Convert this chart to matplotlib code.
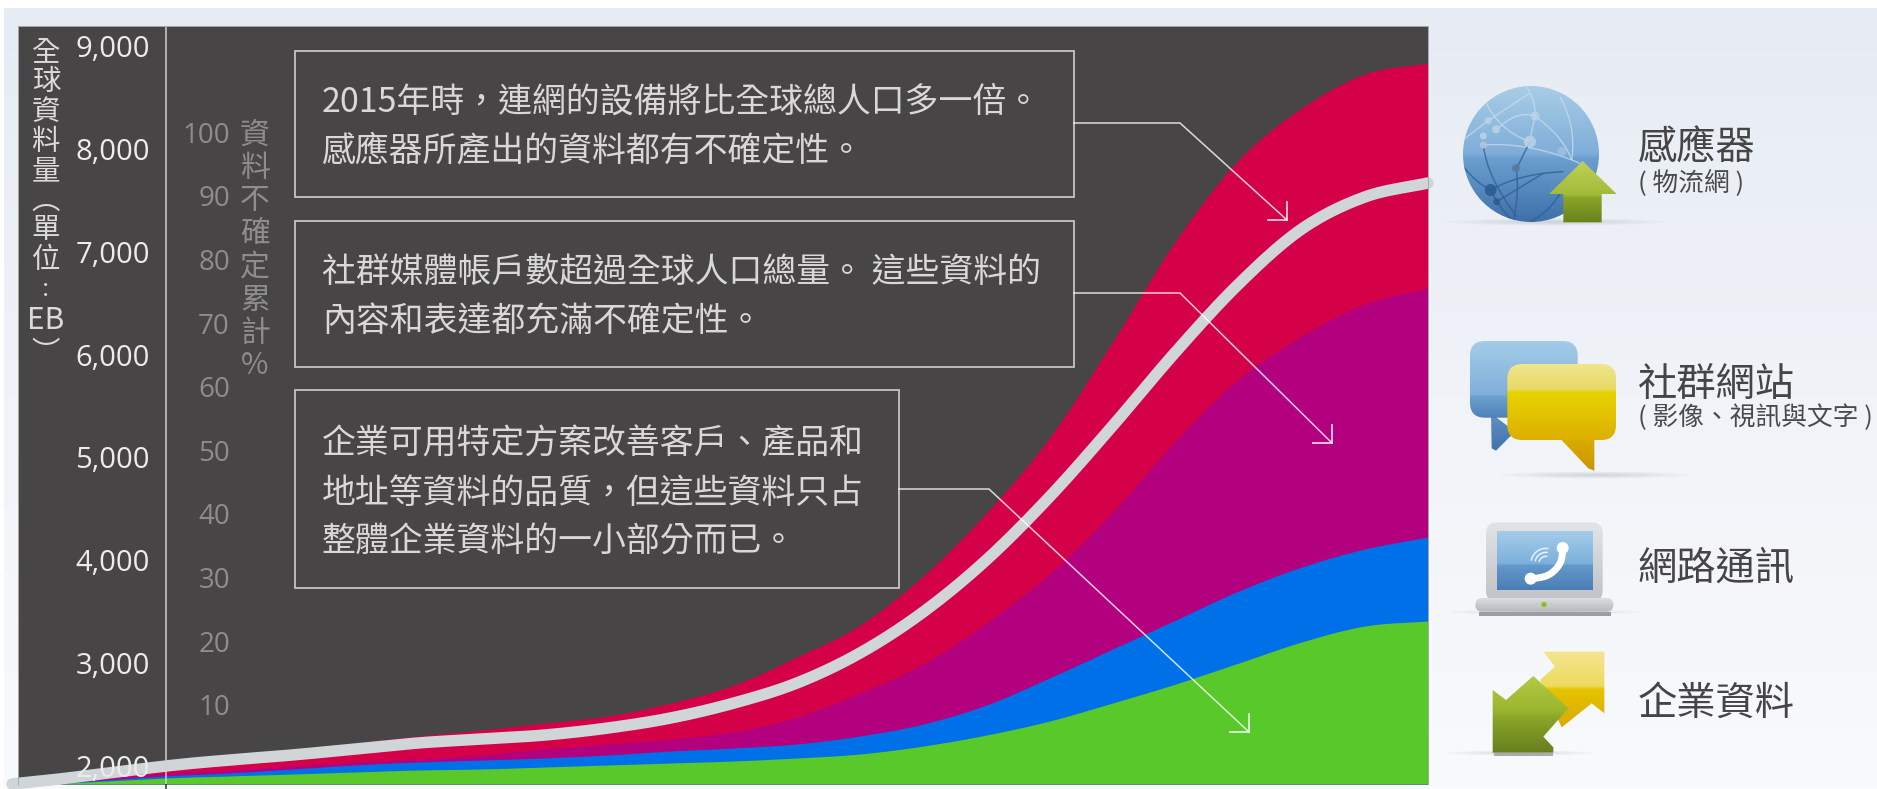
import numpy as np
import matplotlib
matplotlib.use("Agg")
import matplotlib.pyplot as plt
from matplotlib.colors import to_rgb
from matplotlib.patches import Circle, Ellipse, FancyBboxPatch, Polygon, Rectangle, PathPatch, Arc
from matplotlib.path import Path

plt.rcParams['font.family'] = ['Noto Sans CJK TC', 'DejaVu Sans']

# ---------- data ----------
years = [2004.16, 2005, 2005.5, 2006, 2006.5, 2007, 2007.5, 2008, 2008.5, 2009, 2009.5,
         2010, 2010.5, 2011, 2011.5, 2012, 2012.5, 2013, 2013.5, 2014, 2014.5, 2015]
enterprise = [1830, 1883, 1903, 1922, 1942, 1961, 1971, 1990, 2010, 2029, 2049,
              2078, 2117, 2194, 2301, 2437, 2612, 2797, 3001, 3206, 3361, 3410]
voip = [1835, 1903, 1932, 1971, 2010, 2039, 2058, 2078, 2107, 2146, 2175,
        2214, 2292, 2408, 2593, 2856, 3137, 3419, 3701, 3935, 4110, 4226]
social = [1835, 1932, 1961, 2000, 2039, 2068, 2107, 2165, 2214, 2262, 2331,
          2476, 2710, 2992, 3390, 3867, 4469, 5160, 5762, 6180, 6492, 6647]
sensors = [1844, 2049, 2102, 2165, 2224, 2292, 2350, 2418, 2486, 2612, 2787,
           3060, 3371, 3847, 4460, 5189, 6122, 7104, 7892, 8397, 8728, 8835]
uncert_years = [2003.78] + years
uncertainty_eb = [1825, 1874, 2000, 2058, 2107, 2165, 2224, 2262, 2301, 2369, 2467, 2612,
                  2807, 3099, 3497, 4003, 4615, 5305, 6025, 6686, 7221, 7532, 7668]
eb_ticks = [2000, 3000, 4000, 5000, 6000, 7000, 8000, 9000]
pct_ticks = [10, 20, 30, 40, 50, 60, 70, 80, 90, 100]
eb_title = ["全", "球", "資", "料", "量", "︵", "單", "位", "‧", "‧", "EB", "︶"]
pct_title = ["資", "料", "不", "確", "定", "累", "計", "%"]
box_lines = [
    ["2015年時，連網的設備將比全球總人口多一倍。", "感應器所產出的資料都有不確定性。"],
    ["社群媒體帳戶數超過全球人口總量。 這些資料的", "內容和表達都充滿不確定性。"],
    ["企業可用特定方案改善客戶、產品和", "地址等資料的品質，但這些資料只占", "整體企業資料的一小部分而已。"],
]
legend_names = ["感應器", "社群網站", "網路通訊", "企業資料"]
legend_subs = ["( 物流網 )", "( 影像、視訊與文字 )"]

W, H = 1877, 789
DPI = 100
PANEL = (18, 26, 1428, 784)  # left, top, right, bottom in pixels


def smooth(xs, ys, n=14):
    p = np.column_stack([xs, ys]).astype(float)
    p = np.vstack([2 * p[0] - p[1], p, 2 * p[-1] - p[-2]])
    out = []
    t = np.linspace(0, 1, n, endpoint=False)[:, None]
    for i in range(1, len(p) - 2):
        a, b, c, d = p[i - 1], p[i], p[i + 1], p[i + 2]
        out.append(0.5 * (2 * b + (c - a) * t + (2 * a - 5 * b + 4 * c - d) * t ** 2 + (3 * b - a - 3 * c + d) * t ** 3))
    out.append(p[-2][None, :])
    out = np.vstack(out)
    return out[:, 0], out[:, 1]


fig = plt.figure(figsize=(W / DPI, H / DPI), dpi=DPI, facecolor='white')

# ---------- background ----------
bg = fig.add_axes([0, 0, 1, 1], zorder=0)
bg.set_axis_off()
c0, c1 = np.array(to_rgb('#e7ecf4')), np.array(to_rgb('#f9fafc'))
tt = np.linspace(0, 1, 256)[:, None, None]
bg.imshow(c0 * (1 - tt) + c1 * tt, extent=(4, W, H, 8), aspect='auto')
bg.set_xlim(0, W)
bg.set_ylim(H, 0)

# ---------- chart ----------
l, t, r, b = PANEL
ax = fig.add_axes([l / W, 1 - b / H, (r - l) / W, (b - t) / H], zorder=1, facecolor='#474546')
ax.set_xlim(2003.827, 2015)
ax.set_ylim(1825, 9194)
ax.set_axisbelow(False)
for series, col, in [(sensors, '#d40048'), (social, '#b2007f'), (voip, '#0070e8'), (enterprise, '#58c82a')]:
    sx, sy = smooth(years, series)
    ax.fill_between(sx, 1825, sy, color=col, lw=0, zorder=2)
ux, uy = smooth(uncert_years, uncertainty_eb)
ax.plot(ux, uy, color='#d0d5d8', lw=11.5 * 0.72, solid_capstyle='round', clip_on=False, zorder=2.2)
ax.axvline(2005, color='#cfcfcf', lw=1.1, zorder=2.3)
ax.set_xticks([2005])
ax.set_xticklabels([''])
ax.tick_params(axis='x', direction='out', length=4, width=1.1, color='#333333')
ax.set_yticks(eb_ticks)
ax.set_yticklabels([f"{v:,}" for v in eb_ticks], family=['Open Sans'], fontsize=21, color='#ececec')
ax.tick_params(axis='y', direction='in', length=0, pad=-95)
for s in ax.spines.values():
    s.set_color('#a8a8a8')
    s.set_linewidth(0.7)
ax.spines['bottom'].set_visible(False)

ax2 = ax.twinx()
ax2.set_ylim(-2.42, 116.67)
ax2.yaxis.tick_left()
ax2.set_yticks(pct_ticks)
ax2.set_yticklabels([str(v) for v in pct_ticks], family=['Open Sans'], fontsize=20, color='#8d8d8d')
ax2.tick_params(axis='y', direction='in', length=0, pad=-152.6)
for s in ax2.spines.values():
    s.set_visible(False)

# ---------- overlay in pixels ----------
ov = fig.add_axes([0, 0, 1, 1], zorder=3)
ov.set_axis_off()
ov.patch.set_alpha(0)
ov.set_xlim(0, W)
ov.set_ylim(H, 0)
ov.set_autoscale_on(False)

eb_y = [52, 82, 112, 142, 171, 201, 230, 260, 285, 295, 320, 353]
eb_sz = [20.5, 20.5, 20.5, 20.5, 20.5, 20.5, 20.5, 20.5, 11, 11, 21.5, 20.5]
for ch, y, fs in zip(eb_title, eb_y, eb_sz):
    ov.text(46, y, ch, ha='center', va='center', fontsize=fs, color='#dadada', fontweight='light')
for ch, y in zip(pct_title, [135, 168, 200, 233, 268, 300, 333, 365]):
    ov.text(255, y, ch, ha='center', va='center', fontsize=21.5, color='#8d8d8d', fontweight='light')

boxes = [(295, 51, 1074, 196.5), (295, 220.5, 1074, 367), (295, 390, 899, 587.5)]
line_y = [[102, 151], [273, 321], [444.5, 493, 541]]
for (x0, y0, x1, y1), lines, ys in zip(boxes, box_lines, line_y):
    ov.add_patch(Rectangle((x0, y0), x1 - x0, y1 - y0, fc='none', ec='#c4c4c4', lw=1.3))
    for s, y in zip(lines, ys):
        ov.text(322, y, s, ha='left', va='center', fontsize=24.4, color='#d8d8d8', fontweight='light')

leaders = [[(1074, 123), (1180, 123), (1287, 220)],
           [(1074, 293), (1180, 293), (1332, 443)],
           [(899, 489), (989, 489), (1249, 732)]]
for pts in leaders:
    xs, ys = zip(*pts)
    ov.plot(xs, ys, color='white', alpha=0.8, lw=1.1, solid_joinstyle='miter')
    tx, ty = pts[-1]
    ov.plot([tx - 19, tx, tx], [ty, ty, ty - 18], color='white', alpha=0.8, lw=1.3, solid_joinstyle='miter')


# ---------- icons ----------
def grad(patch, stops, y0, y1, z=4):
    patch.set_facecolor('none')
    patch.set_edgecolor('none')
    ov.add_patch(patch)
    pos = np.array([s[0] for s in stops])
    cols = np.array([to_rgb(s[1]) for s in stops])
    u = np.linspace(0, 1, 256)
    arr = np.stack([np.interp(u, pos, cols[:, i]) for i in range(3)], axis=1)[:, None, :]
    ext = patch.get_path().transformed(patch.get_patch_transform()).get_extents()
    im = ov.imshow(arr, extent=(ext.x0 - 2, ext.x1 + 2, y1, y0), aspect='auto', zorder=z)
    im.set_clip_path(patch)
    return im


def rr(x0, y0, x1, y1, r):
    return FancyBboxPatch((x0, y0), x1 - x0, y1 - y0, boxstyle=f"round,pad=0,rounding_size={r}", lw=0)


def shadow(cx, cy, w, h=7):
    for k in np.linspace(1, 0.25, 6):
        ov.add_patch(Ellipse((cx, cy), w * k, h * k, fc='#7a8088', ec='none', alpha=0.04, zorder=3))


Z2 = lambda zx, zy: (1420 + zx / 3, 50 + zy / 3)
Z3 = lambda zx, zy: (1420 + zx / 3, 470 + zy / 3)

# globe
shadow(1555, 222, 220)
gc = Circle((1531, 154), 68)
grad(gc, [(0, '#a8cde6'), (0.5, '#7fadd9'), (0.53, '#6c9fd0'), (1, '#3d70a8')], 86, 222)
net_light = [[(130, 270), (200, 210), (330, 130)], [(190, 285), (330, 275), (480, 340)],
             [(190, 140), (230, 240), (330, 275)], [(345, 198), (335, 240), (330, 275)],
             [(230, 238), (290, 180), (345, 198)], [(345, 198), (430, 260), (455, 330)],
             [(420, 140), (470, 230), (455, 330)], [(320, 110), (350, 160), (345, 198)]]
net_dark = [[(190, 285), (200, 380), (290, 500)], [(290, 355), (330, 275), (330, 275)],
            [(212, 420), (300, 370), (430, 365)], [(230, 455), (320, 400), (370, 370)],
            [(288, 355), (300, 430), (280, 510)], [(212, 420), (235, 470), (280, 515)],
            [(130, 350), (170, 400), (212, 420)], [(330, 515), (400, 480), (430, 410)]]
for group, col, lw in [(net_light, '#c8dcec', 1.0), (net_dark, '#2f5f94', 1.1)]:
    for a_, b_, c_ in group:
        pp = PathPatch(Path([Z2(*a_), Z2(*b_), Z2(*c_)], [Path.MOVETO, Path.CURVE3, Path.CURVE3]),
                       fc='none', ec=col, lw=lw, alpha=0.75, zorder=5)
        ov.add_patch(pp)
        pp.set_clip_path(gc)
for zx, zy, rad, col in [(345, 198, 4.5, '#bcd3e8'), (330, 275, 6, '#bcd3e8'), (425, 305, 4.5, '#a4bfdc'),
                         (228, 238, 4, '#bcd3e8'), (205, 212, 3.5, '#bcd3e8'), (190, 258, 3.5, '#bcd3e8'),
                         (190, 285, 3.5, '#b2c9e2'), (288, 355, 4, '#55789f'), (212, 420, 6, '#2c5a90'),
                         (230, 455, 3.5, '#2c5a90')]:
    ov.add_patch(Circle(Z2(zx, zy), rad, fc=col, ec='none', alpha=0.85, zorder=5))
# up arrow
arrow_pts = [Z2(*p) for p in [(488, 333), (590, 432), (545, 432), (545, 517), (430, 517), (430, 432), (387, 432)]]
grad(Polygon(arrow_pts), [(0, '#c0d25a'), (0.55, '#a2ba38'), (0.6, '#8aa428'), (1, '#67821c')], 160, 223, z=6)

# speech bubbles
shadow(1595, 475, 190)
grad(Polygon([Z2(213, 1090), Z2(215, 1195), Z2(228, 1202), Z2(285, 1145)]),
     [(0, '#6495c7'), (1, '#3f72aa')], 410, 452, z=4)
grad(rr(*Z2(150, 873), *Z2(473, 1103), 15),
     [(0, '#a5cce8'), (0.7, '#7fb0da'), (0.72, '#6fa2d2'), (1, '#4c80b8')], 340, 418, z=4)
grad(Polygon([Z2(420, 1165), Z2(523, 1165), Z2(523, 1262), Z2(505, 1255)]),
     [(0, '#dcb000'), (1, '#c98f00')], 435, 476, z=5)
grad(rr(*Z2(262, 942), *Z2(588, 1170), 15),
     [(0, '#f0e68c'), (0.33, '#e8da66'), (0.36, '#e6d400'), (1, '#dcae00')], 364, 441, z=5)

# laptop
shadow(1545, 612, 190, 6)
grad(rr(*Z3(198, 157), *Z3(548, 395), 11), [(0, '#e2e4e6'), (1, '#bfc2c6')], 522, 602, z=4)
grad(Rectangle(Z3(232, 183), (518 - 232) / 3, (360 - 183) / 3),
     [(0, '#a4cde9'), (0.55, '#7db0dc'), (0.58, '#6499cd'), (1, '#4a7db5')], 531, 590, z=5)
grad(rr(*Z3(166, 384), *Z3(580, 425), 7), [(0, '#dcdee0'), (1, '#b4b8bc')], 598, 612, z=5)
ov.add_patch(Rectangle(Z3(178, 425), (572 - 178) / 3, 13 / 3, fc='#9a9ea3', ec='none', zorder=5))
ov.add_patch(Circle(Z3(372, 404), 3, fc='#8fb83a', ec='#c8d890', lw=0.6, zorder=6))
hx, hy = smooth([Z3(430, 232)[0], Z3(420, 280)[0], Z3(385, 315)[0], Z3(330, 328)[0]],
                [Z3(430, 232)[1], Z3(420, 280)[1], Z3(385, 315)[1], Z3(330, 328)[1]])
ov.plot(hx, hy, color='white', lw=5, solid_capstyle='round', zorder=6)
for p in [(428, 234), (332, 326)]:
    ov.add_patch(Ellipse(Z3(*p), 12, 12, fc='white', ec='none', zorder=6))
for rad in (14, 22, 30):
    ov.add_patch(Arc(Z3(378, 280), rad, rad, theta1=190, theta2=280, ec='white', lw=1.1, alpha=0.8, zorder=6))

# double arrows
shadow(1520, 753, 150, 5)
grad(Polygon([Z3(*p) for p in [(370, 545), (553, 545), (553, 730), (515, 700), (425, 772), (360, 630), (405, 590)]]),
     [(0, '#f3e590'), (0.45, '#eedb60'), (0.5, '#e6c400'), (1, '#d9a800')], 651, 728, z=4)
ov.add_patch(Rectangle(Z3(222, 848), 178 / 3, 10 / 3, fc='#a8acb0', ec='none', zorder=4))
grad(Polygon([Z3(*p) for p in [(340, 618), (445, 715), (370, 800), (400, 832), (400, 848), (218, 848), (218, 660), (258, 690)]]),
     [(0, '#b2ca44'), (0.45, '#9ab52e'), (0.55, '#8aa528'), (1, '#667e1e')], 676, 753, z=5)

# legend text
for name, y in zip(legend_names, [149, 385, 569, 704]):
    ov.text(1638, y, name, ha='left', va='center', fontsize=28.3, color='#454545')
for name, y in zip(legend_subs, [183, 418]):
    ov.text(1638, y, name, ha='left', va='center', fontsize=18.5, color='#4a4a4a')

ov.set_xlim(0, W)
ov.set_ylim(H, 0)
fig.savefig('out.png', dpi=DPI, facecolor='white')
